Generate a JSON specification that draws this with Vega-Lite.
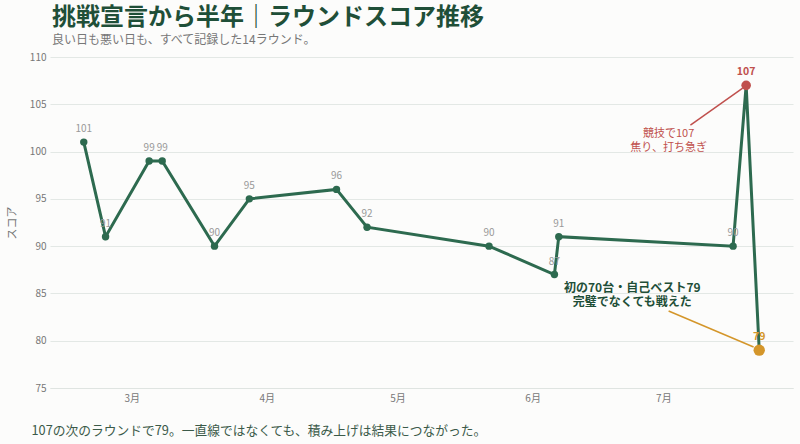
{
  "$schema": "https://vega.github.io/schema/vega-lite/v6.json",
  "width": 743,
  "height": 331,
  "autosize": {"type": "none"},
  "padding": {"left": 50, "top": 57, "right": 7, "bottom": 56},
  "background": "#fcfcfb",
  "config": {"font": "Noto Sans CJK JP", "view": {"stroke": null}},
  "title": {
    "text": "挑戦宣言から半年｜ラウンドスコア推移",
    "subtitle": "良い日も悪い日も、すべて記録した14ラウンド。",
    "anchor": "start",
    "frame": "group",
    "dx": 2,
    "offset": 6,
    "fontSize": 24,
    "fontWeight": "bold",
    "color": "#1f4f38",
    "subtitleFontSize": 12,
    "subtitleColor": "#777777",
    "subtitlePadding": 5
  },
  "datasets": {
    "rounds": [
      {"date": "2025/02/18", "score": 101, "type": "normal"},
      {"date": "2025/02/23", "score": 91, "type": "normal"},
      {"date": "2025/03/05", "score": 99, "type": "normal"},
      {"date": "2025/03/08", "score": 99, "type": "normal"},
      {"date": "2025/03/20", "score": 90, "type": "normal"},
      {"date": "2025/03/28", "score": 95, "type": "normal"},
      {"date": "2025/04/17", "score": 96, "type": "normal"},
      {"date": "2025/04/24", "score": 92, "type": "normal"},
      {"date": "2025/05/22", "score": 90, "type": "normal"},
      {"date": "2025/06/06", "score": 87, "type": "normal"},
      {"date": "2025/06/07", "score": 91, "type": "normal"},
      {"date": "2025/07/17", "score": 90, "type": "normal"},
      {"date": "2025/07/20", "score": 107, "type": "worst"},
      {"date": "2025/07/23", "score": 79, "type": "best"}
    ],
    "worstNote": [
      {"date": "2025/07/02 05:00", "score": 102.45, "text": ["競技で107", "焦り、打ち急ぎ"]}
    ],
    "bestNote": [
      {"date": "2025/06/23 21:00", "score": 86.1, "text": ["初の70台・自己ベスト79", "完璧でなくても戦えた"]}
    ],
    "worstLine": [
      {"date": "2025/07/07 05:00", "score": 102.8, "date2": "2025/07/19 05:00", "score2": 106.7}
    ],
    "bestLine": [
      {"date": "2025/07/02 05:00", "score": 83.14, "date2": "2025/07/21 17:00", "score2": 79.33}
    ]
  },
  "layer": [
    {
      "data": {"name": "rounds"},
      "mark": {"type": "line", "color": "#2d6a4f", "strokeWidth": 3},
      "encoding": {
        "x": {
          "field": "date",
          "type": "temporal",
          "scale": {"domain": [
            {"year": 2025, "month": 2, "date": 10, "hours": 6},
            {"year": 2025, "month": 7, "date": 30, "hours": 18}
          ]},
          "axis": {
            "format": "%-m月",
            "tickCount": {"interval": "month"},
            "grid": false,
            "ticks": false,
            "domain": true,
            "domainColor": "#dfe4e1",
            "labelColor": "#777777",
            "labelFontSize": 10,
            "labelPadding": 5,
            "title": "107の次のラウンドで79。一直線ではなくても、積み上げは結果につながった。",
            "titleAnchor": "start",
            "titleAlign": "left",
            "titleX": -19,
            "titleY": 42,
            "titleBaseline": "middle",
            "titleFontSize": 12.75,
            "titleFontWeight": "normal",
            "titleColor": "#3b5a49"
          }
        },
        "y": {
          "field": "score",
          "type": "quantitative",
          "scale": {"domain": [75, 110], "nice": false, "zero": false},
          "axis": {
            "values": [75, 80, 85, 90, 95, 100, 105, 110],
            "grid": true,
            "gridColor": "#e3e8e5",
            "ticks": false,
            "domain": false,
            "labelColor": "#777777",
            "labelFontSize": 10,
            "labelPadding": 4,
            "title": "スコア",
            "titleColor": "#777777",
            "titleFontSize": 11,
            "titleFontWeight": "normal",
            "titlePadding": 12
          }
        }
      }
    },
    {
      "data": {"name": "worstLine"},
      "mark": {"type": "rule", "color": "#c0504d", "strokeWidth": 1.5},
      "encoding": {
        "x": {"field": "date", "type": "temporal"},
        "x2": {"field": "date2"},
        "y": {"field": "score", "type": "quantitative"},
        "y2": {"field": "score2"}
      }
    },
    {
      "data": {"name": "bestLine"},
      "mark": {"type": "rule", "color": "#d4962a", "strokeWidth": 1.5},
      "encoding": {
        "x": {"field": "date", "type": "temporal"},
        "x2": {"field": "date2"},
        "y": {"field": "score", "type": "quantitative"},
        "y2": {"field": "score2"}
      }
    },
    {
      "data": {"name": "rounds"},
      "mark": {"type": "circle", "opacity": 1},
      "encoding": {
        "x": {"field": "date", "type": "temporal"},
        "y": {"field": "score", "type": "quantitative"},
        "color": {
          "field": "type",
          "type": "nominal",
          "scale": {"domain": ["normal", "worst", "best"], "range": ["#2d6a4f", "#c0504d", "#d4962a"]},
          "legend": null
        },
        "size": {
          "field": "type",
          "type": "nominal",
          "scale": {"domain": ["normal", "worst", "best"], "range": [55, 130, 85]},
          "legend": null
        }
      }
    },
    {
      "data": {"name": "rounds"},
      "transform": [{"filter": "datum.type === 'normal'"}],
      "mark": {"type": "text", "dy": -13, "fontSize": 10, "color": "#999999"},
      "encoding": {
        "x": {"field": "date", "type": "temporal"},
        "y": {"field": "score", "type": "quantitative"},
        "text": {"field": "score", "type": "quantitative"}
      }
    },
    {
      "data": {"name": "rounds"},
      "transform": [{"filter": "datum.type !== 'normal'"}],
      "mark": {"type": "text", "dy": -13, "fontSize": 10.5, "fontWeight": "bold"},
      "encoding": {
        "x": {"field": "date", "type": "temporal"},
        "y": {"field": "score", "type": "quantitative"},
        "text": {"field": "score", "type": "quantitative"},
        "color": {"field": "type", "type": "nominal", "legend": null}
      }
    },
    {
      "data": {"name": "worstNote"},
      "mark": {"type": "text", "align": "center", "baseline": "top", "fontSize": 11, "lineHeight": 13.5, "color": "#c0504d"},
      "encoding": {
        "x": {"field": "date", "type": "temporal"},
        "y": {"field": "score", "type": "quantitative"},
        "text": {"field": "text"}
      }
    },
    {
      "data": {"name": "bestNote"},
      "mark": {"type": "text", "align": "center", "baseline": "top", "fontSize": 12, "fontWeight": "bold", "lineHeight": 13.5, "color": "#1f4f38"},
      "encoding": {
        "x": {"field": "date", "type": "temporal"},
        "y": {"field": "score", "type": "quantitative"},
        "text": {"field": "text"}
      }
    }
  ]
}
